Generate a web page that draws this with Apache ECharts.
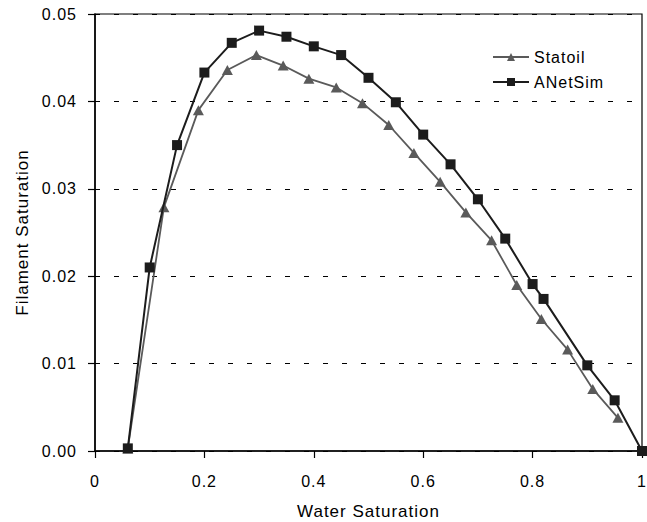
<!DOCTYPE html>
<html>
<head>
<meta charset="utf-8">
<script src="https://cdn.jsdelivr.net/npm/echarts@6/dist/echarts.min.js"></script>
<style>
  html, body { margin: 0; padding: 0; background: #fff; }
  #chart { width: 647px; height: 522px; letter-spacing: 1px; }
</style>
</head>
<body>
<div id="chart"></div>
<script>
  // ANetSim (black squares)
  const anetX = [0.06, 0.10, 0.15, 0.20, 0.25, 0.30, 0.35, 0.40, 0.45, 0.50, 0.55, 0.60, 0.65, 0.70, 0.75, 0.80, 0.82, 0.90, 0.95, 1.00];
  const anetY = [0.0003, 0.0210, 0.0350, 0.0433, 0.0467, 0.0481, 0.0474, 0.0463, 0.0453, 0.0427, 0.0399, 0.0362, 0.0328, 0.0288, 0.0243, 0.0191, 0.0174, 0.0098, 0.0058, 0.0];

  // Statoil (grey triangles)
  const statoilX = [0.06, 0.126, 0.189, 0.242, 0.295, 0.344, 0.391, 0.441, 0.489, 0.537, 0.583, 0.631, 0.678, 0.725, 0.771, 0.816, 0.864, 0.910, 0.956];
  const statoilY = [0.0003, 0.0279, 0.0390, 0.0436, 0.0453, 0.0441, 0.0426, 0.0416, 0.0398, 0.0373, 0.0341, 0.0308, 0.0273, 0.0241, 0.0190, 0.0151, 0.0116, 0.0071, 0.0038];

  const seriesNames = ['Statoil', 'ANetSim'];

  const pairs = (xs, ys) => xs.map((x, i) => [x, ys[i]]);

  const fontFamily = '"Liberation Sans", Arial, sans-serif';
  const black = '#1c1c1c';
  const grey = '#5a5a5a';

  const chart = echarts.init(document.getElementById('chart'), null, { renderer: 'svg' });

  const option = {
    animation: false,
    backgroundColor: '#fff',
    textStyle: { fontFamily: fontFamily },
    grid: {
      left: 95,
      right: 5,
      top: 14,
      bottom: 71,
      outerBoundsMode: 'none',
      show: true,
      borderColor: '#000',
      borderWidth: 1.2,
    },
    legend: {
      data: seriesNames,
      orient: 'vertical',
      left: 487,
      top: 44,
      itemWidth: 36,
      itemHeight: 10,
      itemGap: 9,
      itemTextGap: 5,
      textStyle: { fontSize: 16, color: '#000', fontFamily: fontFamily, lineHeight: 16 },
    },
    xAxis: {
      type: 'value',
      min: 0,
      max: 1,
      interval: 0.2,
      name: 'Water Saturation',
      nameLocation: 'middle',
      nameGap: 52,
      nameTextStyle: { fontSize: 17, color: '#000', fontFamily: fontFamily },
      axisLine: { onZero: false, lineStyle: { color: '#000', width: 1.5 } },
      axisTick: { show: true, length: 7, inside: false, lineStyle: { color: '#000', width: 1.2 } },
      axisLabel: { margin: 22, fontSize: 16, color: '#000', fontFamily: fontFamily },
      splitLine: { show: false },
    },
    yAxis: {
      type: 'value',
      min: 0,
      max: 0.05,
      interval: 0.01,
      name: 'Filament Saturation',
      nameLocation: 'middle',
      nameGap: 64,
      nameTextStyle: { fontSize: 17, color: '#000', fontFamily: fontFamily },
      axisLine: { show: true, lineStyle: { color: '#000', width: 1.5 } },
      axisTick: { show: true, length: 7, inside: false, lineStyle: { color: '#000', width: 1.2 } },
      axisLabel: {
        margin: 18,
        fontSize: 16,
        color: '#000',
        fontFamily: fontFamily,
        formatter: function (value) {
          return value.toFixed(2);
        },
      },
      splitLine: { show: true, lineStyle: { color: '#000', width: 1, type: [5, 14] } },
    },
    series: [
      {
        name: 'Statoil',
        type: 'line',
        data: pairs(statoilX, statoilY),
        symbol: 'triangle',
        symbolSize: [11, 10],
        lineStyle: { color: grey, width: 1.8 },
        itemStyle: { color: grey },
        z: 2,
      },
      {
        name: 'ANetSim',
        type: 'line',
        data: pairs(anetX, anetY),
        symbol: 'rect',
        symbolSize: 10,
        lineStyle: { color: black, width: 2 },
        itemStyle: { color: black },
        z: 3,
      },
    ],
  };

  chart.setOption(option);
</script>
</body>
</html>
